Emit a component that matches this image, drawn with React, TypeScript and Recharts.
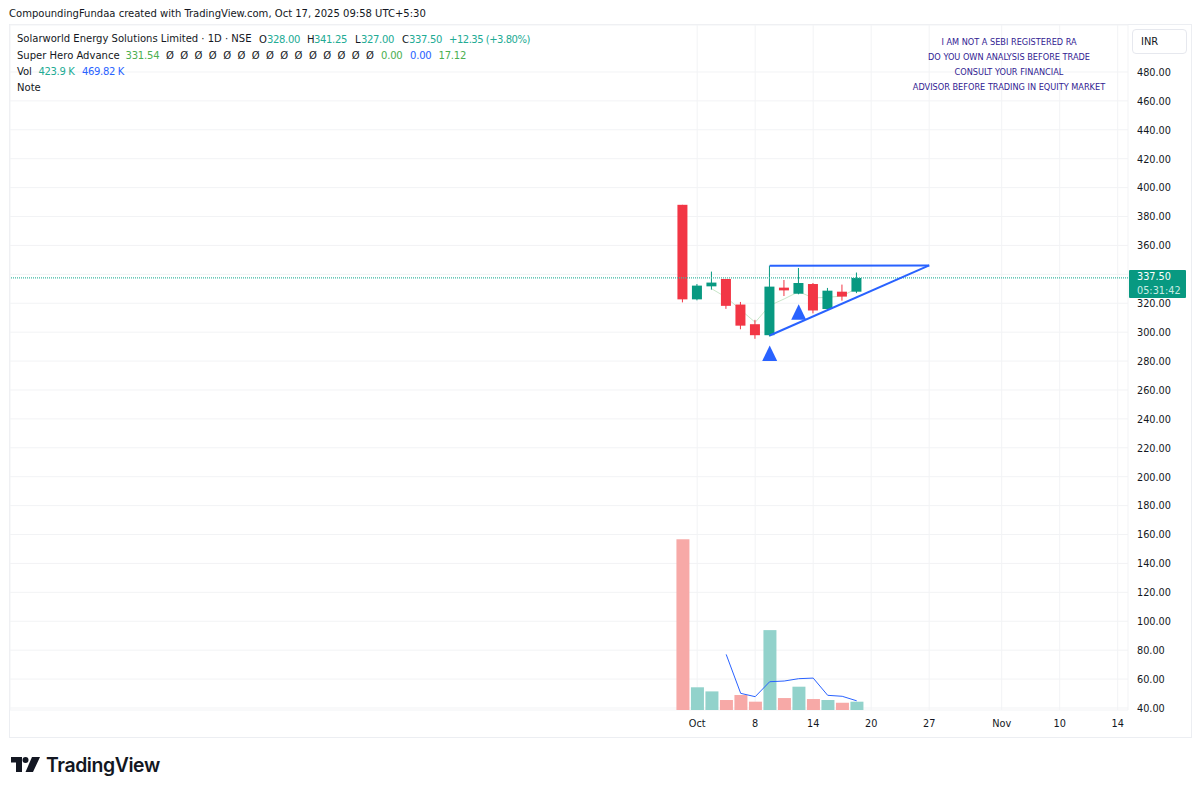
import React from "react";
import { ComposedChart, Bar, Line, XAxis, YAxis, CartesianGrid, ReferenceLine } from "recharts";

const FONT = "'DejaVu Sans Condensed', Roboto, sans-serif";
const UP = "#089981";
const DOWN = "#f23645";
const BLUE = "#2962ff";
const GREEN = "#4caf50";
const INK = "#131722";
const LEGEND_UP = "#22ab94";

const barIndex = [0, 1, 2, 3, 4, 5, 6, 7, 8, 9, 10, 11, 12];
const opens = [388.1, 322.7, 331.7, 336.8, 319.1, 305.5, 297.9, 330.8, 326.6, 333.3, 316, 328, 328];
const highs = [388.1, 333.3, 341.9, 336.8, 320.9, 308.5, 346, 336.1, 344.4, 334, 330.6, 332.9, 341.25];
const lows = [320.6, 322, 329.4, 316.1, 302, 295.4, 297, 325, 326.2, 313, 315.4, 321.8, 327];
const closes = [322.7, 332.2, 334.3, 318.2, 304.5, 297.9, 331.5, 328.9, 334, 315, 328.7, 324.6, 337.5];
const volumes = [8720, 1160, 950, 510, 765, 425, 4080, 610, 1190, 560, 510, 370, 424];
const volumeAvg = [null, null, null, 2840, 850, 680, 1445, 1480, 1600, 1630, 750, 700, 470];
const heroLine = [null, null, 330, 324.1, 315.4, 306.8, 318.4, 323, 328, 323.7, 324.1, 325, 330.3];
const triangles = [null, null, null, null, null, null, 285.2, null, 313.7, null, null, null, null];

const priceTicks = [40, 60, 80, 100, 120, 140, 160, 180, 200, 220, 240, 260, 280, 300, 320, 340, 360, 380, 400, 420, 440, 460, 480];
const timeTicks = [1, 5, 9, 13, 17, 22, 26, 30];
const timeLabels = ["Oct", "8", "14", "20", "27", "Nov", "10", "14"];
const disclaimer = [
  "I AM NOT A SEBI REGISTERED RA",
  "DO YOU OWN ANALYSIS BEFORE TRADE",
  "CONSULT YOUR FINANCIAL",
  "ADVISOR BEFORE TRADING IN EQUITY MARKET",
];
const emptyMarks = 15;

const rows = barIndex.map((i) => ({
  i,
  open: opens[i],
  close: closes[i],
  range: [lows[i], highs[i]],
  volume: volumes[i],
  volumeAvg: volumeAvg[i],
  hero: heroLine[i],
  tri: triangles[i],
}));

const X_DOMAIN: [number, number] = [-46.39, 30.71];
const PRICE_DOMAIN: [number, number] = [38.6, 512.5];
const VOLUME_DOMAIN: [number, number] = [0, 34986];

function Candle(props: any) {
  const { x, y, width, height, payload } = props;
  const [low, high] = payload.range;
  const unit = height / (high - low);
  const top = y + (high - Math.max(payload.open, payload.close)) * unit;
  const bottom = y + (high - Math.min(payload.open, payload.close)) * unit;
  const color = payload.close >= payload.open ? UP : DOWN;
  const cx = x + width / 2;
  return (
    <g>
      <line x1={cx} x2={cx} y1={y} y2={y + height} stroke={color} strokeWidth={1} />
      <rect x={x} y={top} width={width} height={Math.max(bottom - top, 1)} fill={color} />
    </g>
  );
}

function VolumeBar(props: any) {
  const { x, y, width, height, payload } = props;
  const color = payload.close >= payload.open ? "#92d2cb" : "#f7a9a7";
  return <rect x={x} y={y} width={width} height={height} fill={color} />;
}

function TriangleDot(props: any) {
  const { cx, cy, payload } = props;
  if (payload.tri == null || cy == null) return <g key={payload.i} />;
  return <path key={payload.i} d={`M${cx},${cy - 8} L${cx + 7.5},${cy + 7.5} L${cx - 7.5},${cy + 7.5} Z`} fill={BLUE} />;
}

const abs = (left: number, top: number, extra: React.CSSProperties = {}): React.CSSProperties => ({
  position: "absolute",
  left,
  top,
  whiteSpace: "nowrap",
  lineHeight: "16px",
  ...extra,
});

const Txt = ({ x, y, c, sp, children }: { x: number; y: number; c?: string; sp?: number; children: React.ReactNode }) => (
  <div style={abs(x, y, { color: c || INK, letterSpacing: sp || 0 })}>{children}</div>
);

export default function App() {
  return (
    <div style={{ position: "absolute", left: 0, top: 0, width: 1200, height: 793, background: "#fff", fontFamily: FONT, fontSize: 11.15, color: INK, overflow: "hidden" }}>
      <div style={abs(9, 6)}>CompoundingFundaa created with TradingView.com, Oct 17, 2025 09:58 UTC+5:30</div>
      <div style={{ position: "absolute", left: 9, top: 24, width: 1181, height: 712, border: "1px solid #eceef2" }} />
      <div style={{ position: "absolute", left: 0, top: 0 }}>
        <ComposedChart width={1200} height={793} data={rows} margin={{ left: 10, right: 7, top: 25, bottom: 56 }} barGap={0}>
          <CartesianGrid xAxisId="price" yAxisId="price" stroke="#f2f3f5" strokeWidth={1} />
          <XAxis
            xAxisId="price"
            dataKey="i"
            type="number"
            domain={X_DOMAIN}
            allowDataOverflow
            ticks={timeTicks}
            interval={0}
            tickFormatter={(v: number) => timeLabels[timeTicks.indexOf(v)]}
            tick={{ fill: INK, fontSize: 10.8, fontFamily: FONT }}
            tickLine={false}
            axisLine={false}
            tickMargin={3}
            height={27}
          />
          <XAxis xAxisId="vol" dataKey="i" type="number" domain={X_DOMAIN} allowDataOverflow hide />
          <YAxis
            yAxisId="price"
            orientation="right"
            domain={PRICE_DOMAIN}
            allowDataOverflow
            ticks={priceTicks}
            interval={0}
            tickFormatter={(v: number) => v.toFixed(2)}
            tick={{ fill: INK, fontSize: 10.8, fontFamily: FONT, dx: 1 }}
            tickLine={false}
            axisLine={false}
            width={65}
          />
          <YAxis yAxisId="vol" domain={VOLUME_DOMAIN} allowDataOverflow hide />
          <Bar xAxisId="vol" yAxisId="vol" dataKey="volume" barSize={13} shape={<VolumeBar />} isAnimationActive={false} />
          <Line xAxisId="vol" yAxisId="vol" dataKey="volumeAvg" stroke={BLUE} strokeWidth={1} dot={false} type="linear" isAnimationActive={false} />
          <ReferenceLine xAxisId="price" yAxisId="price" y={337.5} stroke="#3db8a3" strokeWidth={1.2} strokeDasharray="1 1" />
          <Line xAxisId="price" yAxisId="price" dataKey="hero" stroke="#c8e6c9" strokeWidth={1} dot={false} type="linear" isAnimationActive={false} zIndex={100} />
          <Bar xAxisId="price" yAxisId="price" dataKey="range" barSize={10} shape={<Candle />} isAnimationActive={false} />
          <ReferenceLine xAxisId="price" yAxisId="price" segment={[{ x: 6, y: 346 }, { x: 17, y: 346.2 }]} stroke={BLUE} strokeWidth={2} />
          <ReferenceLine xAxisId="price" yAxisId="price" segment={[{ x: 6, y: 297.7 }, { x: 17, y: 346.2 }]} stroke={BLUE} strokeWidth={2} />
          <Line xAxisId="price" yAxisId="price" dataKey="tri" stroke="none" dot={<TriangleDot />} activeDot={false} isAnimationActive={false} />
        </ComposedChart>
      </div>

      <Txt x={17} y={31}>Solarworld Energy Solutions Limited · 1D · NSE</Txt>
      <Txt x={259} y={32}>O</Txt><Txt x={267} y={32} c={LEGEND_UP} sp={-0.35}>328.00</Txt>
      <Txt x={307} y={32}>H</Txt><Txt x={314} y={32} c={LEGEND_UP} sp={-0.35}>341.25</Txt>
      <Txt x={355} y={32}>L</Txt><Txt x={361} y={32} c={LEGEND_UP} sp={-0.35}>327.00</Txt>
      <Txt x={402} y={32}>C</Txt><Txt x={409} y={32} c={LEGEND_UP} sp={-0.35}>337.50</Txt>
      <Txt x={449} y={32} c={LEGEND_UP} sp={-0.5}>+12.35 (+3.80%)</Txt>

      <Txt x={17} y={48}>Super Hero Advance</Txt>
      <Txt x={125.5} y={48} c={GREEN} sp={-0.2}>331.54</Txt>
      {Array.from({ length: emptyMarks }, (_, k) => (
        <Txt key={k} x={166 + k * 14.29} y={48}>Ø</Txt>
      ))}
      <Txt x={381} y={48} c={GREEN} sp={-0.2}>0.00</Txt>
      <Txt x={410} y={48} c={BLUE} sp={-0.2}>0.00</Txt>
      <Txt x={438.5} y={48} c={GREEN} sp={-0.2}>17.12</Txt>

      <Txt x={17} y={64}>Vol</Txt>
      <Txt x={38.5} y={64} c={LEGEND_UP} sp={-0.35}>423.9 K</Txt>
      <Txt x={82} y={64} c={BLUE} sp={-0.35}>469.82 K</Txt>
      <Txt x={17} y={80}>Note</Txt>

      {disclaimer.map((t, k) => (
        <div key={t} style={abs(859, 34 + k * 15, { width: 300, textAlign: "center", color: "#311b92", fontSize: 9.1 })}>{t}</div>
      ))}

      <div style={{ position: "absolute", left: 1132, top: 29, width: 55, height: 25, boxSizing: "border-box", border: "1px solid #e6e8ee", borderRadius: 4, paddingLeft: 8, lineHeight: "24px", fontSize: 11, background: "#fff" }}>INR</div>

      <div style={{ position: "absolute", left: 1129, top: 270, width: 57, height: 28, background: UP, borderRadius: 1, color: "#fff", fontSize: 10.8, lineHeight: "14px", paddingLeft: 8, boxSizing: "border-box" }}>
        <div>337.50</div>
        <div style={{ color: "#c8ebe4" }}>05:31:42</div>
      </div>

      <svg style={{ position: "absolute", left: 11, top: 756 }} width={29} height={17} viewBox="0 0 29 17">
        <path d="M0 1 H11 V16 H5 V6.5 H0 Z" fill={INK} />
        <circle cx={14.5} cy={4} r={3} fill={INK} />
        <path d="M21 1 H29 L22 16 H14.5 Z" fill={INK} />
      </svg>
      <div style={abs(46, 752, { fontSize: 19.4, fontWeight: 600, lineHeight: "26px", fontFamily: "Inter, sans-serif", letterSpacing: -0.4 })}>TradingView</div>
    </div>
  );
}
